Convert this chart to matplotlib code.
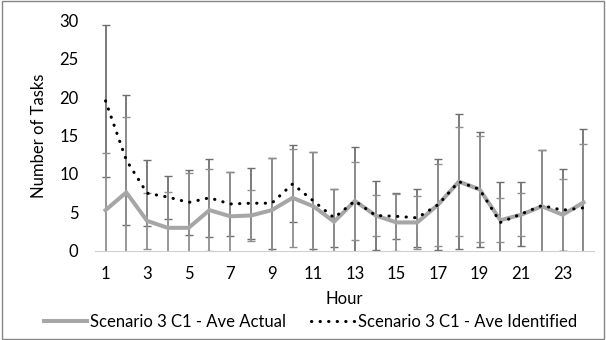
import matplotlib
matplotlib.use("Agg")
import matplotlib.pyplot as plt
from matplotlib.patches import Rectangle

plt.rcParams['font.family'] = ['Lato', 'DejaVu Sans']

# Hourly averages and their error bars
hours = list(range(1, 25))
ave_actual = [5.3, 7.6, 3.9, 3.0, 3.0, 5.3, 4.5, 4.6, 5.3, 6.9, 5.8, 3.8,
              6.5, 4.6, 3.7, 3.7, 6.0, 9.0, 8.0, 4.0, 4.7, 5.8, 4.7, 6.3]
ave_identified = [19.5, 11.8, 7.5, 7.0, 6.3, 6.9, 6.1, 6.2, 6.2, 8.7, 6.5, 4.3,
                  6.5, 4.6, 4.5, 4.3, 6.0, 9.0, 8.0, 3.7, 4.8, 5.9, 5.3, 5.6]
err_actual = [7.4, 9.8, 3.6, 4.6, 7.1, 5.3, 5.8, 3.3, 6.8, 6.4, 7.0, 4.2,
              5.1, 2.7, 3.7, 3.4, 5.3, 7.1, 6.9, 2.9, 2.8, 7.3, 4.7, 7.6]
err_identified = [9.9, 8.4, 4.3, 2.8, 4.2, 5.1, 4.2, 4.6, 5.9, 5.0, 6.3, 3.8,
                  7.0, 4.5, 3.0, 3.8, 5.9, 8.8, 7.5, 5.2, 4.1, 7.2, 5.3, 10.2]
xtick_labels = [str(h) for h in range(1, 25, 2)]

fig = plt.figure(figsize=(6.06, 3.40), dpi=100)
ax = fig.add_axes([0.157, 0.262, 0.823, 0.679])

ax.errorbar(hours, ave_identified, yerr=err_identified, fmt='none',
            ecolor='#6f6f6f', elinewidth=1.3, capsize=3.0, capthick=1.0, zorder=2)
ax.errorbar(hours, ave_actual, yerr=err_actual, fmt='none',
            ecolor='#8f8f8f', elinewidth=1.3, capsize=3.0, capthick=1.0, zorder=2)

ax.plot(hours, ave_actual, color='#a6a6a6', linewidth=2.9,
        solid_joinstyle='miter', label='Scenario 3 C1 - Ave Actual', zorder=3)
ax.plot(hours, ave_identified, color='black', linewidth=2.2,
        linestyle=(0, (0.1, 2.7)), dash_capstyle='round',
        label='Scenario 3 C1 - Ave Identified', zorder=4)

ax.set_xlim(0.5, 24.5)
ax.set_ylim(0, 30)
ax.set_yticks(range(0, 31, 5))
ax.set_xticks(range(1, 25, 2))
ax.set_xticklabels(xtick_labels)
ax.tick_params(length=0, labelsize=12, colors='black')
ax.tick_params(axis='x', pad=11)
ax.tick_params(axis='y', pad=12)

for side in ['top', 'right', 'left']:
    ax.spines[side].set_visible(False)
ax.spines['bottom'].set_color('#d0d0d0')

ax.set_xlabel('Hour', fontsize=12, labelpad=6)
ax.set_ylabel('Number of Tasks', fontsize=12, labelpad=9)

fig.legend(loc='center', bbox_to_anchor=(0.512, 0.053), ncol=2, frameon=False,
           fontsize=12, handlelength=2.6, handletextpad=0.2,
           columnspacing=1.5, borderaxespad=0)

# outer chart border
fig.patches.append(Rectangle((0.004, 0.004), 0.992, 0.992, transform=fig.transFigure,
                             fill=False, edgecolor='#858585', linewidth=1.0))

fig.savefig('out.png', dpi=100)
